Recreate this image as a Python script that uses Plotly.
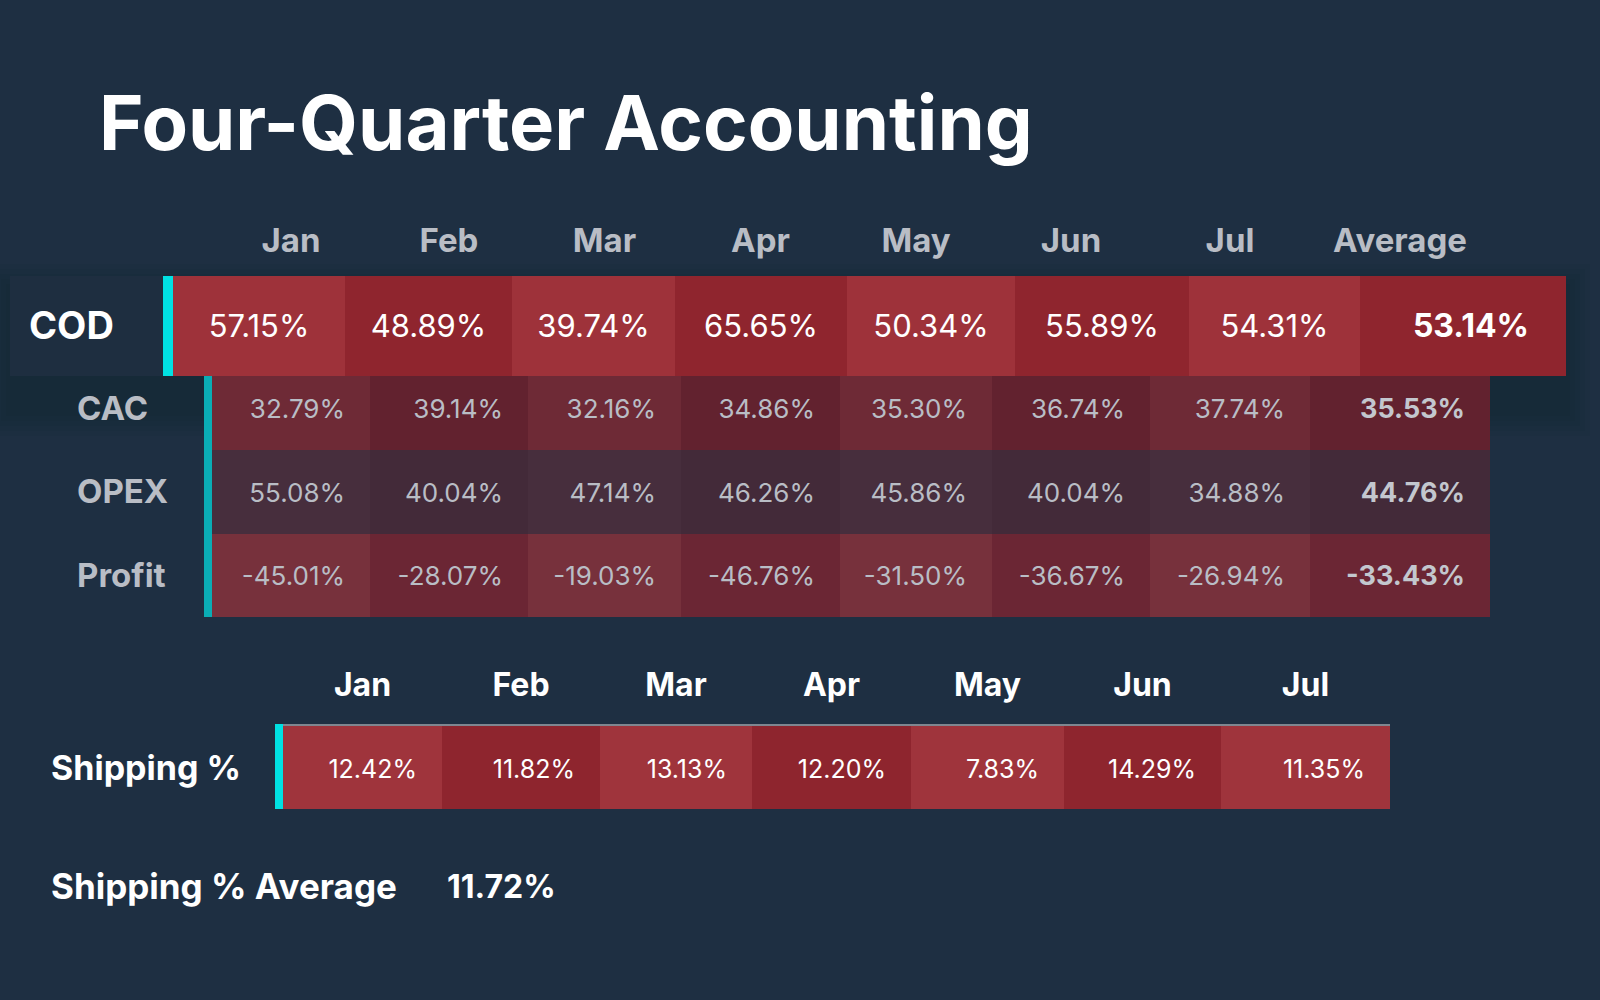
import plotly.graph_objects as go

# --- data ---
MONTHS = ["Jan", "Feb", "Mar", "Apr", "May", "Jun", "Jul"]
AVG_LABEL = "Average"
COD = [57.15, 48.89, 39.74, 65.65, 50.34, 55.89, 54.31]
COD_AVG = 53.14
SUB_LABELS = ["CAC", "OPEX", "Profit"]
CAC = [32.79, 39.14, 32.16, 34.86, 35.30, 36.74, 37.74]
CAC_AVG = 35.53
OPEX = [55.08, 40.04, 47.14, 46.26, 45.86, 40.04, 34.88]
OPEX_AVG = 44.76
PROFIT = [-45.01, -28.07, -19.03, -46.76, -31.50, -36.67, -26.94]
PROFIT_AVG = -33.43
SHIPPING = [12.42, 11.82, 13.13, 12.20, 7.83, 14.29, 11.35]
SHIPPING_AVG = 11.72

# --- layout / style (pixel space, 1600 x 1000) ---
W, H = 1600, 1000
BG = "#1e2f42"
FONT = "Inter"
WHITE = "#ffffff"
GREY = "#b9bdc5"
CYAN = "#00e1e3"
CYAN_DIM = "#0aadb5"
DY = 3  # scatter text sits a touch high, nudge down

COD_LEFT, COD_WIDTHS, COD_Y = 173, [172, 167, 163, 172, 168, 174, 171, 206], (276, 376)
SUB_LEFT, SUB_WIDTHS = 212, [158, 158, 153, 159, 152, 158, 160, 180]
SUB_Y = [(367, 450), (450, 534), (534, 617)]
SHIP_LEFT, SHIP_WIDTHS, SHIP_Y = 283, [159, 158, 152, 159, 153, 157, 169], (724, 809)

COD_FILL = ("#9e323a", "#8f252e")
SUB_FILL = [("#6e2a36", "#62222f"), ("#472e3d", "#432a39"), ("#77313c", "#6b2634")]
SHIP_FILL = ("#9f343c", "#8e252e")


def edges(left, widths):
    out = [left]
    for w in widths:
        out.append(out[-1] + w)
    return out


def pct(v):
    return f"{v:.2f}%"


def row_bars(left, widths, ys, fills):
    e = edges(left, widths)
    n = len(widths)
    return go.Bar(
        orientation="h", base=e[:-1], x=widths, y=[(ys[0] + ys[1]) / 2] * n,
        width=ys[1] - ys[0], marker=dict(color=[fills[i % 2] for i in range(n)], line_width=0),
        hoverinfo="skip", showlegend=False,
    )


def text_trace(xs, ys, texts, size, color, pos="middle center", weight=400):
    return go.Scatter(
        x=xs, y=[y + DY for y in ys], text=texts, mode="text", textposition=pos,
        textfont=dict(family=FONT, size=size, color=color, weight=weight),
        hoverinfo="skip", showlegend=False,
    )


fig = go.Figure()

# soft shadow under the COD row
shapes = []
for i in range(5):
    d = 24 - i * 5
    shapes.append(dict(type="rect", xref="x", yref="y", layer="below",
                       x0=10 - d, x1=COD_LEFT + sum(COD_WIDTHS) + d, y0=COD_Y[0] - d + 12, y1=COD_Y[1] + d + 36,
                       fillcolor="rgba(10,18,28,0.04)", line_width=0))
# COD label panel + cyan markers
shapes.append(dict(type="rect", xref="x", yref="y", x0=10, x1=COD_LEFT - 10, y0=COD_Y[0], y1=COD_Y[1],
                   fillcolor="#1e2e40", line_width=0, layer="below"))
shapes.append(dict(type="rect", xref="x", yref="y", x0=COD_LEFT - 10, x1=COD_LEFT, y0=COD_Y[0], y1=COD_Y[1],
                   fillcolor=CYAN, line_width=0, layer="above"))
shapes.append(dict(type="rect", xref="x", yref="y", x0=SUB_LEFT - 8, x1=SUB_LEFT, y0=COD_Y[1], y1=SUB_Y[-1][1],
                   fillcolor=CYAN_DIM, line_width=0, layer="above"))
shapes.append(dict(type="rect", xref="x", yref="y", x0=SHIP_LEFT - 8, x1=SHIP_LEFT, y0=SHIP_Y[0], y1=SHIP_Y[1],
                   fillcolor=CYAN, line_width=0, layer="above"))
shapes.append(dict(type="line", xref="x", yref="y", x0=SHIP_LEFT, x1=SHIP_LEFT + sum(SHIP_WIDTHS),
                   y0=SHIP_Y[0] + 1, y1=SHIP_Y[0] + 1, line=dict(color="#7f8690", width=2), layer="above"))

# sub table (CAC / OPEX / Profit)
sub_rows = [(CAC, CAC_AVG), (OPEX, OPEX_AVG), (PROFIT, PROFIT_AVG)]
se = edges(SUB_LEFT, SUB_WIDTHS)
for ys, fills in zip(SUB_Y, SUB_FILL):
    fig.add_trace(row_bars(SUB_LEFT, SUB_WIDTHS, ys, fills))

# COD row on top, then shipping row
fig.add_trace(row_bars(COD_LEFT, COD_WIDTHS, COD_Y, COD_FILL))
fig.add_trace(row_bars(SHIP_LEFT, SHIP_WIDTHS, SHIP_Y, SHIP_FILL))

# header labels, centred over the sub table columns
sub_centers = [(se[i] + se[i + 1]) / 2 for i in range(len(SUB_WIDTHS))]
fig.add_trace(text_trace(sub_centers, [241] * 8, MONTHS + [AVG_LABEL], 33, GREY, weight=700))

# COD values (centred)
ce = edges(COD_LEFT, COD_WIDTHS)
cod_centers = [(ce[i] + ce[i + 1]) / 2 for i in range(len(COD_WIDTHS))]
cy = (COD_Y[0] + COD_Y[1]) / 2
fig.add_trace(text_trace(cod_centers[:-1], [cy] * 7, [pct(v) for v in COD], 31, WHITE))
fig.add_trace(text_trace([cod_centers[-1] + 8], [cy], [pct(COD_AVG)], 32, WHITE, weight=700))
fig.add_trace(text_trace([29], [cy], ["COD"], 38, WHITE, pos="middle right", weight=700))

# sub values (right aligned)
pad = 25
sub_yc = [(a + b) / 2 for a, b in SUB_Y]
for (vals, avg), yc in zip(sub_rows, sub_yc):
    fig.add_trace(text_trace([x - pad for x in se[1:-1]], [yc] * 7, [pct(v) for v in vals], 26, GREY,
                             pos="middle left"))
    fig.add_trace(text_trace([se[-1] - pad], [yc], [pct(avg)], 27, "#c3c7ce", pos="middle left", weight=700))
fig.add_trace(text_trace([77] * 3, sub_yc, SUB_LABELS, 33, GREY, pos="middle right", weight=700))

# shipping
she = edges(SHIP_LEFT, SHIP_WIDTHS)
ship_centers = [(she[i] + she[i + 1]) / 2 for i in range(len(SHIP_WIDTHS))]
fig.add_trace(text_trace(ship_centers, [685] * 7, MONTHS, 32, WHITE, weight=700))
syc = (SHIP_Y[0] + SHIP_Y[1]) / 2 + 2
fig.add_trace(text_trace([x - pad for x in she[1:]], [syc] * 7, [pct(v) for v in SHIPPING], 25, WHITE,
                         pos="middle left"))
fig.add_trace(text_trace([51], [syc], ["Shipping %"], 34, WHITE, pos="middle right", weight=700))
fig.add_trace(text_trace([51], [887], ["Shipping % Average"], 35, WHITE, pos="middle right", weight=700))
fig.add_trace(text_trace([447], [887], [pct(SHIPPING_AVG)], 32, WHITE, pos="middle right", weight=700))

fig.update_layout(
    width=W, height=H,
    paper_bgcolor=BG, plot_bgcolor=BG,
    margin=dict(l=0, r=0, t=0, b=0),
    barmode="overlay",
    xaxis=dict(range=[0, W], visible=False, fixedrange=True),
    yaxis=dict(range=[H, 0], visible=False, fixedrange=True),
    shapes=shapes,
    annotations=[dict(text="Four-Quarter Accounting", x=97, y=122, xref="x", yref="y",
                      xanchor="left", yanchor="middle", showarrow=False,
                      font=dict(family=FONT, size=76, color=WHITE, weight=700))],
    showlegend=False,
)

fig.write_html("out.html", config={"displayModeBar": False},
               post_script="document.body.style.margin='0';document.body.style.background='#1e2f42';")
